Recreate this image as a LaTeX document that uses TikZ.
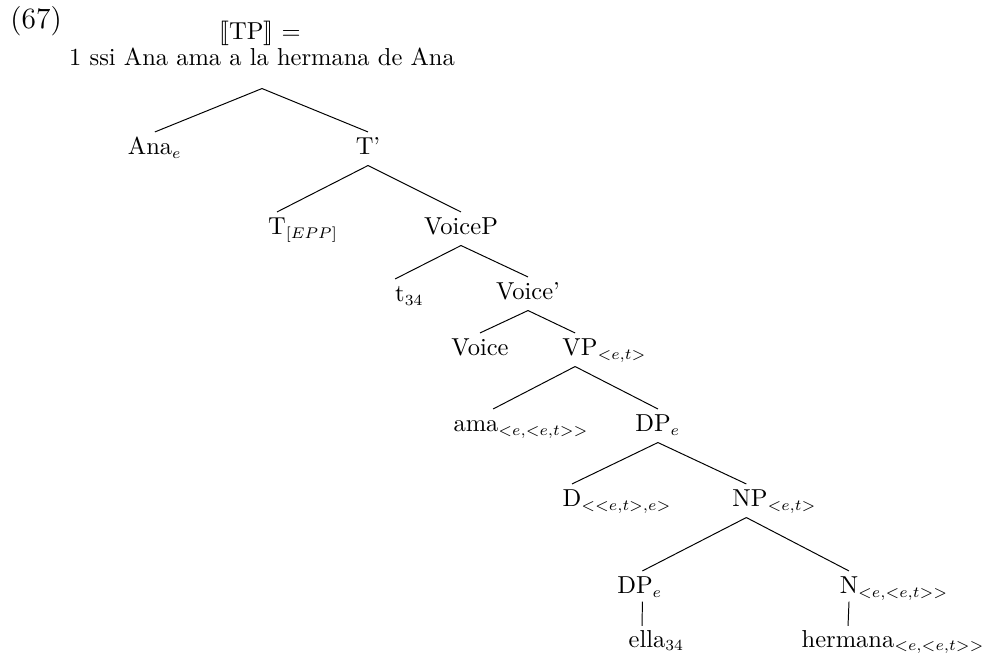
\documentclass[tikz,border=0pt]{standalone}
\usepackage{stmaryrd}
\newcommand\subs[1]{\rlap{\scalebox{0.9}{$_{#1}$}}}
\begin{document}
\begin{tikzpicture}[x=0.408pt,y=-0.408pt,
  tn/.style={anchor=base, text height=6pt, text depth=0.9pt, inner xsep=0pt, inner ysep=3.2pt},
  rootnode/.style={anchor=base, inner xsep=0pt, inner ysep=3.3pt, text depth=5.7pt},
  plain/.style={anchor=base, inner sep=0pt},
  branch/.style={draw=black, line width=0.4pt}]
\useasboundingbox (0,0) rectangle (985,655);
\node[plain, anchor=base west, font=\large] (num) at (10,29) {(67)};
\node[plain] (den) at (260,40) {$\llbracket$TP$\rrbracket$ =};
\node[rootnode] (root) at (262,66) {1 ssi Ana ama a la hermana de Ana};
\node[tn] (ana) at (150,155) {Ana\subs{e}};
\node[tn] (tbar) at (368,155) {T'};
\node[tn] (tepp) at (277,235) {T\subs{[EPP]}};
\node[tn] (voicep) at (461,235) {VoiceP};
\node[tn] (t34) at (400,302) {t\subs{34}};
\node[tn] (voicebar) at (528,300) {Voice'};
\node[tn] (voice) at (480,356) {Voice};
\node[tn] (vp) at (580,356) {VP\subs{<e,t>}};
\node[tn] (ama) at (476,432) {ama\subs{<e,<e,t>>}};
\node[tn] (dp1) at (653,432) {DP\subs{e}};
\node[tn] (d) at (572,507) {D\subs{<<e,t>,e>}};
\node[tn] (np) at (750,507) {NP\subs{<e,t>}};
\node[tn] (dp2) at (635,594) {DP\subs{e}};
\node[tn] (n) at (849,594) {N\subs{<e,<e,t>>}};
\node[tn] (ella) at (647,647) {ella\subs{34}};
\node[tn] (herm) at (848,647) {hermana\subs{<e,<e,t>>}};
\draw[branch] (root.south) -- ([xshift=2pt]ana.north);
\draw[branch] (root.south) -- (tbar.north);
\draw[branch] (tbar.south) -- (tepp.north);
\draw[branch] (tbar.south) -- (voicep.north);
\draw[branch] (voicep.south) -- ([xshift=-2pt]t34.north);
\draw[branch] (voicep.south) -- (voicebar.north);
\draw[branch] (voicebar.south) -- (voice.north);
\draw[branch] (voicebar.south) -- ([xshift=-2pt]vp.north);
\draw[branch] ([xshift=-2pt]vp.south) -- ([xshift=7pt]ama.north);
\draw[branch] ([xshift=-2pt]vp.south) -- ([xshift=2pt]dp1.north);
\draw[branch] ([xshift=2pt]dp1.south) -- (d.north);
\draw[branch] ([xshift=2pt]dp1.south) -- ([xshift=-1.5pt]np.north);
\draw[branch] ([xshift=-1.5pt]np.south) -- ([xshift=3pt]dp2.north);
\draw[branch] ([xshift=-1.5pt]np.south) -- (n.north);
\draw[branch] ([xshift=3pt,yshift=1.2pt]dp2.south) -- ([xshift=-2pt,yshift=-0.8pt]ella.north);
\draw[branch] ([yshift=1.2pt]n.south) -- ([yshift=-0.8pt]herm.north);
\end{tikzpicture}
\end{document}
